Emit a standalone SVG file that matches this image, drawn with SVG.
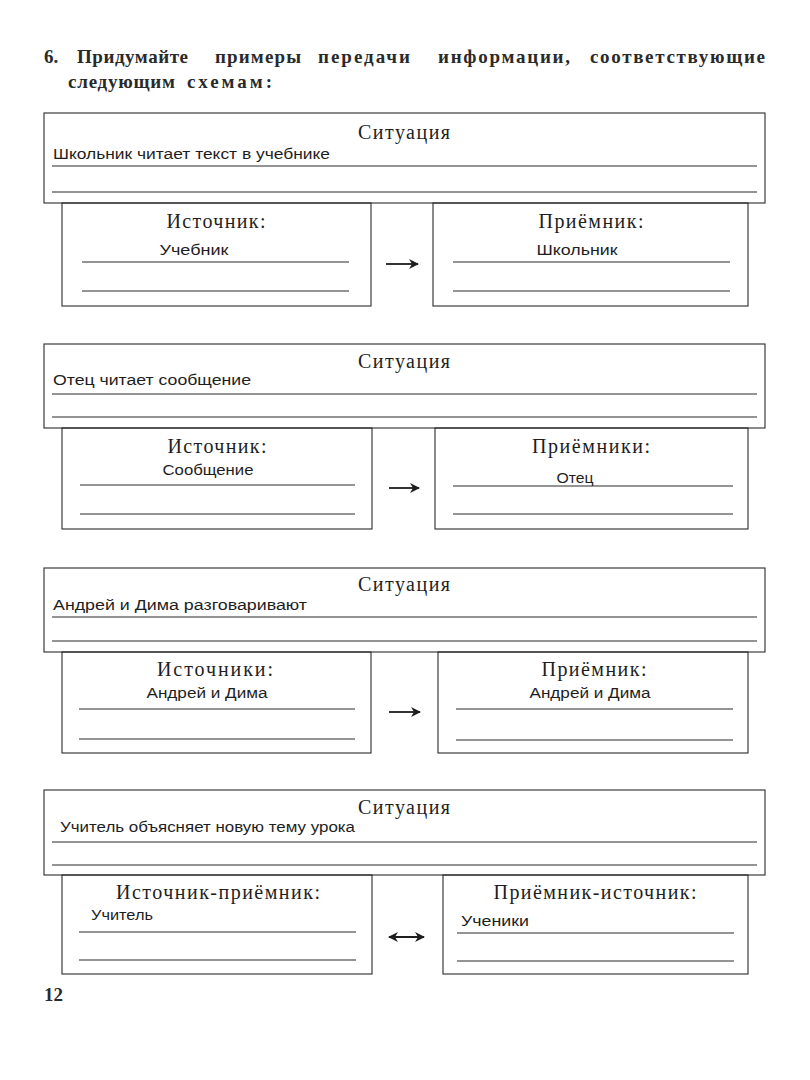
<svg xmlns="http://www.w3.org/2000/svg" width="810" height="1080" viewBox="0 0 810 1080">
<style>
.frame{fill:none;stroke:#2a2a2a;stroke-width:1.1}
.ln{stroke:#2a2a2a;stroke-width:1.1}
.hd{font-family:"Liberation Serif","DejaVu Serif",serif;font-size:19px;font-weight:bold;fill:#2a2a2a}
.ttl{font-family:"Liberation Serif","DejaVu Serif",serif;font-size:20px;fill:#1e1e1e;text-anchor:middle}
.ans{font-family:"Liberation Sans","DejaVu Sans",sans-serif;font-size:14px;fill:#1e1e1e}
.arr{stroke:#1e1e1e;stroke-width:1.8;fill:none}
</style>
<defs>
<marker id="ah" viewBox="0 0 10 10" refX="9" refY="5" markerWidth="10" markerHeight="11" markerUnits="userSpaceOnUse" orient="auto-start-reverse">
<path d="M0,0 L10,5 L0,10 L3,5 z" fill="#1e1e1e"/>
</marker>
</defs>
<rect width="810" height="1080" fill="#ffffff"/>

<g id="header">
<text class="hd" x="44" y="63">6.</text>
<text class="hd" y="63"><tspan x="77" textLength="111">Придумайте</tspan><tspan x="215" textLength="86">примеры</tspan><tspan x="318" textLength="92">передачи</tspan><tspan x="438" textLength="132">информации,</tspan><tspan x="590" textLength="175">соответствующие</tspan></text>
<text class="hd" y="88"><tspan x="68" textLength="107">следующим</tspan><tspan x="187" textLength="85">схемам:</tspan></text>
</g>

<!-- Block 1 -->
<g id="situation1">
<rect class="frame" x="44" y="113" width="721" height="90"/>
<text class="ttl" x="404" y="139" textLength="92">Ситуация</text>
<text class="ans" x="53" y="159" textLength="277" lengthAdjust="spacingAndGlyphs">Школьник читает текст в учебнике</text>
<line class="ln" x1="52" y1="166" x2="757" y2="166"/>
<line class="ln" x1="52" y1="192" x2="757" y2="192"/>
</g>
<g id="source1">
<rect class="frame" x="62" y="203" width="309" height="103"/>
<text class="ttl" x="216" y="228" textLength="99">Источник:</text>
<text class="ans" x="194" y="255" text-anchor="middle" textLength="69" lengthAdjust="spacingAndGlyphs">Учебник</text>
<line class="ln" x1="82" y1="262" x2="349" y2="262"/>
<line class="ln" x1="82" y1="291" x2="349" y2="291"/>
</g>
<g id="receiver1">
<rect class="frame" x="433" y="203" width="315" height="103"/>
<text class="ttl" x="591" y="228" textLength="105">Приёмник:</text>
<text class="ans" x="577" y="255" text-anchor="middle" textLength="81" lengthAdjust="spacingAndGlyphs">Школьник</text>
<line class="ln" x1="453" y1="262" x2="730" y2="262"/>
<line class="ln" x1="453" y1="291" x2="730" y2="291"/>
</g>

<!-- Block 2 -->
<g id="situation2">
<rect class="frame" x="44" y="344" width="721" height="84"/>
<text class="ttl" x="404" y="368" textLength="92">Ситуация</text>
<text class="ans" x="53" y="385" textLength="198" lengthAdjust="spacingAndGlyphs">Отец читает сообщение</text>
<line class="ln" x1="52" y1="394" x2="757" y2="394"/>
<line class="ln" x1="52" y1="417" x2="757" y2="417"/>
</g>
<g id="source2">
<rect class="frame" x="62" y="428" width="310" height="101"/>
<text class="ttl" x="217" y="453" textLength="99">Источник:</text>
<text class="ans" x="208" y="475" text-anchor="middle" textLength="91" lengthAdjust="spacingAndGlyphs">Сообщение</text>
<line class="ln" x1="80" y1="485" x2="355" y2="485"/>
<line class="ln" x1="80" y1="514" x2="355" y2="514"/>
</g>
<g id="receiver2">
<rect class="frame" x="435" y="428" width="313" height="101"/>
<text class="ttl" x="591" y="453" textLength="118">Приёмники:</text>
<text class="ans" x="575" y="483" text-anchor="middle" textLength="37" lengthAdjust="spacingAndGlyphs">Отец</text>
<line class="ln" x1="453" y1="486" x2="733" y2="486"/>
<line class="ln" x1="453" y1="514" x2="733" y2="514"/>
</g>

<!-- Block 3 -->
<g id="situation3">
<rect class="frame" x="44" y="568" width="721" height="84"/>
<text class="ttl" x="404" y="591" textLength="92">Ситуация</text>
<text class="ans" x="53" y="610" textLength="254" lengthAdjust="spacingAndGlyphs">Андрей и Дима разговаривают</text>
<line class="ln" x1="52" y1="617" x2="757" y2="617"/>
<line class="ln" x1="52" y1="641" x2="757" y2="641"/>
</g>
<g id="source3">
<rect class="frame" x="62" y="652" width="309" height="101"/>
<text class="ttl" x="215" y="676" textLength="116">Источники:</text>
<text class="ans" x="207" y="698" text-anchor="middle" textLength="121" lengthAdjust="spacingAndGlyphs">Андрей и Дима</text>
<line class="ln" x1="79" y1="709" x2="355" y2="709"/>
<line class="ln" x1="79" y1="739" x2="355" y2="739"/>
</g>
<g id="receiver3">
<rect class="frame" x="438" y="652" width="310" height="101"/>
<text class="ttl" x="594" y="676" textLength="105">Приёмник:</text>
<text class="ans" x="590" y="698" text-anchor="middle" textLength="121" lengthAdjust="spacingAndGlyphs">Андрей и Дима</text>
<line class="ln" x1="456" y1="709" x2="733" y2="709"/>
<line class="ln" x1="456" y1="740" x2="733" y2="740"/>
</g>

<!-- Block 4 -->
<g id="situation4">
<rect class="frame" x="44" y="790" width="721" height="85"/>
<text class="ttl" x="404" y="814" textLength="92">Ситуация</text>
<text class="ans" x="60" y="832" textLength="295" lengthAdjust="spacingAndGlyphs">Учитель объясняет новую тему урока</text>
<line class="ln" x1="52" y1="842" x2="757" y2="842"/>
<line class="ln" x1="52" y1="865" x2="757" y2="865"/>
</g>
<g id="source4">
<rect class="frame" x="62" y="875" width="310" height="99"/>
<text class="ttl" x="218" y="899" textLength="204">Источник-приёмник:</text>
<text class="ans" x="91" y="920" textLength="62" lengthAdjust="spacingAndGlyphs">Учитель</text>
<line class="ln" x1="79" y1="932" x2="356" y2="932"/>
<line class="ln" x1="79" y1="960" x2="356" y2="960"/>
</g>
<g id="receiver4">
<rect class="frame" x="443" y="875" width="305" height="99"/>
<text class="ttl" x="595" y="899" textLength="203">Приёмник-источник:</text>
<text class="ans" x="461" y="926" textLength="68" lengthAdjust="spacingAndGlyphs">Ученики</text>
<line class="ln" x1="457" y1="933" x2="734" y2="933"/>
<line class="ln" x1="457" y1="961" x2="734" y2="961"/>
</g>

<g id="connectors">
<line class="arr" x1="386" y1="264" x2="418" y2="264" marker-end="url(#ah)"/>
<line class="arr" x1="389" y1="488" x2="419" y2="488" marker-end="url(#ah)"/>
<line class="arr" x1="389" y1="712" x2="420" y2="712" marker-end="url(#ah)"/>
<line class="arr" x1="389" y1="937" x2="424" y2="937" marker-start="url(#ah)" marker-end="url(#ah)"/>
</g>

<g id="page-number">
<text class="hd" x="44" y="1001" font-size="17">12</text>
</g>
</svg>
